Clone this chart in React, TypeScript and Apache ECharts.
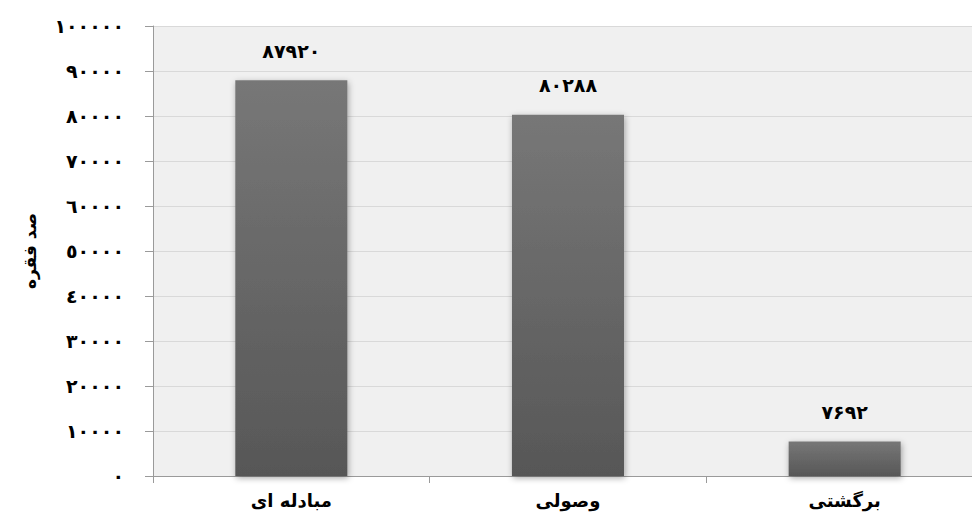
import React, { useEffect, useRef } from "react";
import * as echarts from "echarts";

const categories = ["مبادله ای", "وصولی", "برگشتی"];
const values = [87920, 80288, 7692];
const yAxisName = "صد فقره";
const yMin = 0;
const yMax = 100000;
const yInterval = 10000;

const arabicDigits = "٠١٢٣٤٥٦٧٨٩";
const persianDigits = "۰۱۲۳۴۵۶۷۸۹";
const toArabic = (n: number) => String(n).replace(/\d/g, (d) => arabicDigits[+d]);
const toPersian = (n: number) => String(n).replace(/\d/g, (d) => persianDigits[+d]);

const FONT = "'DejaVu Sans', 'Noto Sans', sans-serif";

export default function App() {
  const ref = useRef<HTMLDivElement>(null);
  useEffect(() => {
    if (!ref.current) return;
    const chart = echarts.init(ref.current, null, { renderer: "svg" });
    chart.setOption({
      animation: false,
      backgroundColor: "#ffffff",
      grid: {
        left: 153,
        top: 26,
        right: 7,
        bottom: 47,
        show: true,
        backgroundColor: "#f0f0f0",
        borderWidth: 0,
      },
      xAxis: {
        type: "category",
        data: categories,
        axisLine: { lineStyle: { color: "#9a9a9a", width: 1 } },
        axisTick: { show: true, length: 7, lineStyle: { color: "#9a9a9a" } },
        axisLabel: {
          margin: 15,
          fontFamily: FONT,
          fontWeight: "bold",
          fontSize: 18,
          color: "#000",
        },
      },
      yAxis: {
        type: "value",
        min: yMin,
        max: yMax,
        interval: yInterval,
        name: yAxisName,
        nameLocation: "middle",
        nameRotate: 90,
        nameGap: 115,
        nameTextStyle: {
          fontFamily: FONT,
          fontWeight: "bold",
          fontSize: 17,
          color: "#000",
        },
        axisLine: { show: true, lineStyle: { color: "#9a9a9a", width: 1 } },
        axisTick: { show: true, length: 8, lineStyle: { color: "#9a9a9a" } },
        splitLine: { show: true, lineStyle: { color: "#d9d9d9", width: 1 } },
        axisLabel: {
          margin: 29,
          fontFamily: FONT,
          fontWeight: "bold",
          fontSize: 19,
          color: "#000",
          formatter: (v: number) => toArabic(v),
        },
      },
      series: [
        {
          type: "bar",
          data: values,
          barWidth: "40.5%",
          itemStyle: {
            color: new echarts.graphic.LinearGradient(0, 0, 0, 1, [
              { offset: 0, color: "#777777" },
              { offset: 1, color: "#575757" },
            ]),
            shadowBlur: 6,
            shadowColor: "rgba(0,0,0,0.35)",
            shadowOffsetX: 1,
            shadowOffsetY: 2,
          },
          label: {
            show: true,
            position: "top",
            distance: 20,
            fontFamily: FONT,
            fontWeight: "bold",
            fontSize: 19,
            color: "#000",
            formatter: (p: any) => toPersian(p.value),
          },
        },
      ],
    });
    return () => chart.dispose();
  }, []);
  return (
    <div
      style={{
        position: "fixed",
        left: 0,
        top: 0,
        width: 972,
        height: 523,
        overflow: "hidden",
      }}
    >
      <div ref={ref} style={{ width: 990, height: 523 }} />
    </div>
  );
}
